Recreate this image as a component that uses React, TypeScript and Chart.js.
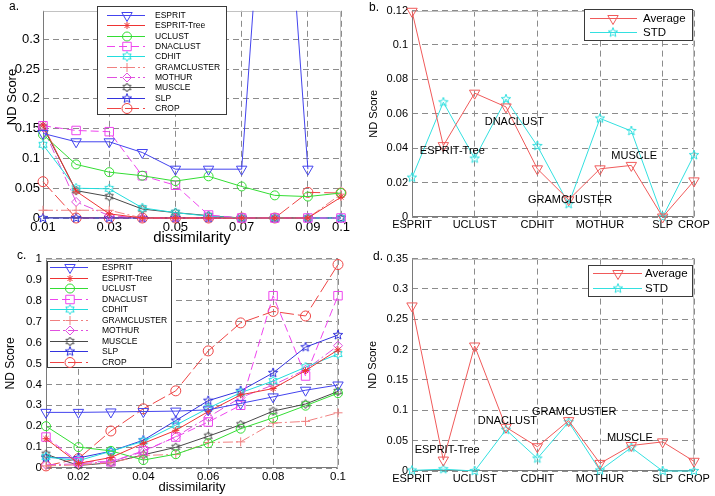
import React, { useEffect, useRef } from "react";
import { Chart, registerables } from "chart.js";
import { drawPoint } from "chart.js/helpers";

Chart.register(...registerables);

const FONT = 'Arial, "Liberation Sans", Helvetica, sans-serif';

// ---------- data ----------
const methods = ["ESPRIT", "ESPRIT-Tree", "UCLUST", "DNACLUST", "CDHIT", "GRAMCLUSTER", "MOTHUR", "MUSCLE", "SLP", "CROP"];
const dissim = [0.01, 0.02, 0.03, 0.04, 0.05, 0.06, 0.07, 0.08, 0.09, 0.1];

// panel a
const aESPRIT = [0.142, 0.128, 0.128, 0.110, 0.082, 0.082, 0.082, 0.86, 0.082, null];
const aESPRITTree = [0.156, 0.045, 0.007, 0, 0, 0, 0, 0, 0, 0.035];
const aUCLUST = [0.140, 0.090, 0.077, 0.071, 0.062, 0.070, 0.053, 0.038, 0.036, 0.042];
const aDNACLUST = [0.155, 0.147, 0.145, 0.071, 0.055, 0.005, 0, 0, 0, 0];
const aCDHIT = [0.123, 0.050, 0.049, 0.017, 0.009, 0.003, 0, 0, 0, 0];
const aGRAMCLUSTER = [0.013, 0.013, 0.013, 0, 0, 0, 0, 0, 0, 0.040];
const aMOTHUR = [0.152, 0.027, 0.004, 0, 0, 0, 0, 0, 0, 0];
const aMUSCLE = [0.153, 0.046, 0.036, 0.015, 0.009, 0.004, 0, 0, 0, 0];
const aSLP = [0, 0, 0, 0, 0, 0, 0, 0, 0, 0];
const aCROP = [0.061, 0, 0, 0, 0, 0, 0, 0, 0.043, 0.042];

// panel c
const cESPRIT = [0.266, 0.266, 0.268, 0.270, 0.272, 0.278, 0.309, 0.340, 0.372, 0.397];
const cESPRITTree = [0.14, 0.022, 0.05, 0.118, 0.18, 0.27, 0.35, 0.38, 0.466, 0.565];
const cUCLUST = [0.2, 0.1, 0.082, 0.038, 0.066, 0.118, 0.188, 0.24, 0.298, 0.358];
const cDNACLUST = [0.148, 0.03, 0.03, 0.082, 0.148, 0.22, 0.30, 0.824, 0.44, 0.824];
const cCDHIT = [0.053, 0.035, 0.08, 0.128, 0.205, 0.286, 0.36, 0.416, 0.482, 0.545];
const cGRAMCLUSTER = [0.01, 0.015, 0.025, 0.06, 0.065, 0.122, 0.125, 0.215, 0.223, 0.264];
const cMOTHUR = [0.015, 0.02, 0.03, 0.078, 0.15, 0.243, 0.337, 0.397, 0.47, 0.585];
const cMUSCLE = [0.066, 0.012, 0.025, 0.063, 0.099, 0.152, 0.207, 0.272, 0.306, 0.366];
const cSLP = [0.05, 0.048, 0.08, 0.133, 0.227, 0.322, 0.369, 0.455, 0.578, 0.636];
const cCROP = [0.01, 0.045, 0.177, 0.283, 0.369, 0.56, 0.694, 0.749, 0.727, 0.973];

// panel b
const bAverage = [0.1196, 0.0415, 0.072, 0.064, 0.028, 0.010, 0.028, 0.030, 0.0, 0.021];
const bSTD = [0.0229, 0.0667, 0.034, 0.0685, 0.0413, 0.0075, 0.0573, 0.050, 0.0, 0.036];
// panel d
const dAverage = [0.272, 0.018, 0.206, 0.072, 0.040, 0.083, 0.0125, 0.042, 0.048, 0.016];
const dSTD = [0.001, 0.003, 0.0, 0.068, 0.0207, 0.0806, 0.001, 0.0387, 0.0, 0.0];

// ticks
const aXTicks = [0.01, 0.03, 0.05, 0.07, 0.09, 0.1];
const aYTicks = [0, 0.05, 0.1, 0.15, 0.2, 0.25, 0.3];
const cXTicks = [0.02, 0.04, 0.06, 0.08, 0.1];
const cYTicks = [0, 0.1, 0.2, 0.3, 0.4, 0.5, 0.6, 0.7, 0.8, 0.9, 1];
const bdXTicks = [1, 3, 5, 7, 9, 10];
const bYTicks = [0, 0.02, 0.04, 0.06, 0.08, 0.1, 0.12];
const dYTicks = [0, 0.05, 0.1, 0.15, 0.2, 0.25, 0.3, 0.35];

// labelled methods written next to points in b and d
const bNotes = [
  { text: "ESPRIT-Tree", x: 1.25, y: 0.0383 },
  { text: "DNACLUST", x: 3.32, y: 0.055 },
  { text: "GRAMCLUSTER", x: 4.7, y: 0.010 },
  { text: "MUSCLE", x: 7.36, y: 0.0356 },
];
const dNotes = [
  { text: "ESPRIT-Tree", x: 1.085, y: 0.034 },
  { text: "DNACLUST", x: 3.1, y: 0.082 },
  { text: "GRAMCLUSTER", x: 4.83, y: 0.098 },
  { text: "MUSCLE", x: 7.22, y: 0.055 },
];

// ---------- helpers ----------
const fmt = (v: any) => String(+Number(v).toFixed(3));
const GRID = "#8c8c8c";

function starCanvas(n: number, ro: number, ri: number, color: string) {
  const s = Math.ceil(2 * ro + 4);
  const c = document.createElement("canvas");
  c.width = s;
  c.height = s;
  const ctx = c.getContext("2d")!;
  ctx.strokeStyle = color;
  ctx.lineWidth = 1;
  ctx.beginPath();
  for (let i = 0; i < 2 * n; i++) {
    const r = i % 2 === 0 ? ro : ri;
    const a = -Math.PI / 2 + (i * Math.PI) / n;
    const x = s / 2 + r * Math.cos(a);
    const y = s / 2 + r * Math.sin(a);
    if (i === 0) ctx.moveTo(x, y);
    else ctx.lineTo(x, y);
  }
  ctx.closePath();
  ctx.stroke();
  return c;
}

type Sty = { color: string; style: any; radius: number; rotation?: number; dash: number[] };

function methodStyles(): Sty[] {
  return [
    { color: "#4444ee", style: "triangle", radius: 6, rotation: 180, dash: [] },
    { color: "#ee3333", style: "star", radius: 3.5, dash: [] },
    { color: "#33dd33", style: "circle", radius: 4.5, dash: [] },
    { color: "#ee44ee", style: "rect", radius: 6, dash: [8, 4] },
    { color: "#22dddd", style: starCanvas(6, 4.8, 2.8, "#22dddd"), radius: 5, dash: [] },
    { color: "#f08080", style: "cross", radius: 4.5, dash: [10, 3, 2, 3] },
    { color: "#e050e0", style: "rectRot", radius: 4.5, dash: [10, 3, 2, 3] },
    { color: "#484848", style: starCanvas(6, 4.5, 2.6, "#484848"), radius: 5, dash: [] },
    { color: "#3333dd", style: starCanvas(5, 5, 2.1, "#3333dd"), radius: 5, dash: [] },
    { color: "#ee4444", style: "circle", radius: 5, dash: [14, 4] },
  ];
}

function mkDs(label: string, xs: number[], ys: (number | null)[], st: Sty, extra: any = {}) {
  return {
    label,
    data: xs.map((x, i) => ({ x, y: ys[i] })),
    borderColor: st.color,
    backgroundColor: st.color,
    borderWidth: 1,
    borderDash: st.dash,
    pointStyle: st.style,
    pointRadius: st.radius,
    pointHoverRadius: st.radius,
    pointRotation: st.rotation || 0,
    pointBorderColor: st.color,
    pointBackgroundColor: "rgba(0,0,0,0)",
    pointBorderWidth: 1,
    tension: 0,
    fill: false,
    clip: 12,
    spanGaps: false,
    ...extra,
  };
}

type LegendCfg = { box: number[]; y0: number; dy: number; lx0: number; lx1: number; mx: number; tx: number; size: number };
type TextCfg = { text: string; x: number; y: number; size: number; data?: boolean; rot?: number; align?: CanvasTextAlign };

function panelPlugin(name: string, legend: LegendCfg, texts: TextCfg[]) {
  return {
    id: "panel" + name,
    beforeDatasetsDraw(chart: any) {
      const { ctx, chartArea: a } = chart;
      const l = Math.round(a.left), r = Math.round(a.right), t = Math.round(a.top), b = Math.round(a.bottom);
      ctx.save();
      ctx.setLineDash([]);
      ctx.lineWidth = 1;
      ctx.strokeStyle = "#c2c2c2";
      ctx.beginPath();
      ctx.moveTo(l + 0.5, t + 0.5);
      ctx.lineTo(r - 0.5, t + 0.5);
      ctx.lineTo(r - 0.5, b - 0.5);
      ctx.stroke();
      ctx.strokeStyle = "#7a7a7a";
      ctx.beginPath();
      ctx.moveTo(l + 0.5, t + 0.5);
      ctx.lineTo(l + 0.5, b - 0.5);
      ctx.lineTo(r - 0.5, b - 0.5);
      ctx.stroke();
      ctx.restore();
    },
    afterDraw(chart: any) {
      const ctx = chart.ctx as CanvasRenderingContext2D;
      ctx.save();
      // legend
      const [x0, y0, x1, y1] = legend.box;
      ctx.fillStyle = "#ffffff";
      ctx.fillRect(x0, y0, x1 - x0, y1 - y0);
      ctx.strokeStyle = "#3a3a3a";
      ctx.lineWidth = 1;
      ctx.setLineDash([]);
      ctx.strokeRect(x0 + 0.5, y0 + 0.5, x1 - x0 - 1, y1 - y0 - 1);
      chart.data.datasets.forEach((ds: any, i: number) => {
        const y = Math.round(legend.y0 + i * legend.dy) + 0.5;
        ctx.save();
        ctx.strokeStyle = ds.borderColor;
        ctx.lineWidth = 1;
        ctx.setLineDash(ds.borderDash || []);
        ctx.beginPath();
        ctx.moveTo(legend.lx0, y);
        ctx.lineTo(legend.lx1, y);
        ctx.stroke();
        ctx.setLineDash([]);
        ctx.fillStyle = "rgba(0,0,0,0)";
        ctx.strokeStyle = ds.borderColor;
        drawPoint(ctx, { pointStyle: ds.pointStyle, rotation: ds.pointRotation || 0, radius: ds.pointRadius, borderWidth: 1 } as any, legend.mx, y);
        ctx.restore();
        ctx.fillStyle = "#000";
        ctx.font = `${legend.size}px ${FONT}`;
        ctx.textAlign = "left";
        ctx.textBaseline = "middle";
        ctx.fillText(ds.label, legend.tx, y);
      });
      // texts
      texts.forEach((t) => {
        let x = t.x, y = t.y;
        if (t.data) {
          x = chart.scales.x.getPixelForValue(t.x);
          y = chart.scales.y.getPixelForValue(t.y);
        }
        ctx.save();
        ctx.translate(x, y);
        if (t.rot) ctx.rotate(t.rot);
        ctx.fillStyle = "#000";
        ctx.font = `${t.size}px ${FONT}`;
        ctx.textAlign = t.align || "left";
        ctx.textBaseline = "middle";
        ctx.fillText(t.text, 0, 0);
        ctx.restore();
      });
      ctx.restore();
    },
  };
}

function axis(opts: {
  min: number; max: number; ticks: number[]; size: number; pad: number; fit: number; horizontal: boolean;
  title?: string; titleSize?: number; titlePad?: number; labels?: (v: number) => string;
}) {
  return {
    type: "linear",
    min: opts.min,
    max: opts.max,
    afterBuildTicks: (s: any) => {
      s.ticks = opts.ticks.map((v) => ({ value: v }));
    },
    afterFit: (s: any) => {
      if (opts.horizontal) s.height = opts.fit;
      else s.width = opts.fit;
    },
    ticks: {
      autoSkip: false,
      maxRotation: 0,
      minRotation: 0,
      padding: opts.pad,
      color: "#000",
      font: { family: FONT, size: opts.size },
      callback: (v: any) => (opts.labels ? opts.labels(Number(v)) : fmt(v)),
    },
    grid: { color: GRID, lineWidth: 1, drawTicks: false },
    border: { display: false, dash: [6, 4] },
    title: opts.title
      ? {
          display: true,
          text: opts.title,
          color: "#000",
          font: { family: FONT, size: opts.titleSize },
          padding: opts.horizontal ? { top: 0, bottom: opts.titlePad } : { top: opts.titlePad, bottom: 0 },
        }
      : { display: false },
  };
}

function baseOptions(padRight: number, padTop: number, scales: any) {
  return {
    responsive: false,
    animation: false,
    devicePixelRatio: 1,
    events: [],
    layout: { padding: { left: 0, right: padRight, top: padTop, bottom: 0 } },
    plugins: { legend: { display: false }, tooltip: { enabled: false } },
    scales,
  };
}

function configA() {
  const st = methodStyles();
  const series = [aESPRIT, aESPRITTree, aUCLUST, aDNACLUST, aCDHIT, aGRAMCLUSTER, aMOTHUR, aMUSCLE, aSLP, aCROP];
  const datasets = series.map((s, i) =>
    mkDs(methods[i], dissim, s, st[i], i === 0 ? { clip: { left: 12, top: 0, right: 12, bottom: 12 } } : {})
  );
  return {
    type: "line",
    data: { datasets },
    options: baseOptions(16, 8, {
      x: axis({ min: 0.01, max: 0.1, ticks: aXTicks, size: 13, pad: 2, fit: 30, horizontal: true, title: "dissimilarity", titleSize: 15, titlePad: 1 }),
      y: axis({ min: 0, max: 0.348, ticks: aYTicks, size: 13, pad: 3, fit: 43, horizontal: false }),
    }),
    plugins: [
      panelPlugin(
        "A",
        { box: [97, 6, 227, 115], y0: 15, dy: 10.33, lx0: 107, lx1: 145, mx: 127, tx: 155, size: 8.5 },
        [
          { text: "a.", x: 9, y: 7, size: 12 },
          { text: "ND Score", x: 12, y: 97, size: 13, rot: -Math.PI / 2, align: "center" },
        ]
      ),
    ],
  };
}

function configC() {
  const st = methodStyles();
  const series = [cESPRIT, cESPRITTree, cUCLUST, cDNACLUST, cCDHIT, cGRAMCLUSTER, cMOTHUR, cMUSCLE, cSLP, cCROP];
  const datasets = series.map((s, i) => mkDs(methods[i], dissim, s, st[i]));
  return {
    type: "line",
    data: { datasets },
    options: baseOptions(19, 8, {
      x: axis({ min: 0.01, max: 0.1, ticks: cXTicks, size: 11.5, pad: 2, fit: 28, horizontal: true, title: "dissimilarity", titleSize: 13, titlePad: 1 }),
      y: axis({ min: 0, max: 1, ticks: cYTicks, size: 11.5, pad: 4, fit: 46, horizontal: false, title: "ND Score", titleSize: 12, titlePad: 3 }),
    }),
    plugins: [
      panelPlugin(
        "C",
        { box: [47, 13, 172, 120], y0: 19, dy: 10.55, lx0: 50, lx1: 88, mx: 70, tx: 102, size: 8.5 },
        [{ text: "c.", x: 17, y: 8, size: 12 }]
      ),
    ],
  };
}

function configBD(name: string, avg: number[], std: number[], yMax: number, yTicks: number[], notes: any[], legend: LegendCfg, letter: TextCfg, top: number, bottomFit: number, titlePad: number, tickPad: number) {
  const idx = methods.map((_, i) => i + 1);
  const avgSty: Sty = { color: "#f05a5a", style: "triangle", radius: 6, rotation: 180, dash: [] };
  const stdSty: Sty = { color: "#33e0e0", style: starCanvas(5, 5, 2.1, "#33e0e0"), radius: 5, dash: [] };
  return {
    type: "line",
    data: { datasets: [mkDs("Average", idx, avg, avgSty), mkDs("STD", idx, std, stdSty)] },
    options: baseOptions(21, top, {
      x: axis({ min: 1, max: 10, ticks: bdXTicks, size: 11, pad: tickPad, fit: bottomFit, horizontal: true, labels: (v) => methods[Math.round(v) - 1] }),
      y: axis({ min: 0, max: yMax, ticks: yTicks, size: 11, pad: 4, fit: 55, horizontal: false, title: "ND Score", titleSize: 11, titlePad }),
    }),
    plugins: [
      panelPlugin(
        name,
        legend,
        [letter, ...notes.map((n) => ({ text: n.text, x: n.x, y: n.y, size: 11, data: true }))]
      ),
    ],
  };
}

export default function App() {
  const refA = useRef<HTMLCanvasElement>(null);
  const refB = useRef<HTMLCanvasElement>(null);
  const refC = useRef<HTMLCanvasElement>(null);
  const refD = useRef<HTMLCanvasElement>(null);

  useEffect(() => {
    const charts: Chart[] = [];
    charts.push(new Chart(refA.current!, configA() as any));
    charts.push(
      new Chart(
        refB.current!,
        configBD(
          "B", bAverage, bSTD, 0.12, bYTicks, bNotes,
          { box: [227, 9, 336, 41], y0: 18, dy: 14, lx0: 233, lx1: 280, mx: 256, tx: 286, size: 11.5 },
          { text: "b.", x: 12, y: 8, size: 12 },
          9, 31, 10, 1
        ) as any
      )
    );
    charts.push(new Chart(refC.current!, configC() as any));
    charts.push(
      new Chart(
        refD.current!,
        configBD(
          "D", dAverage, dSTD, 0.35, dYTicks, dNotes,
          { box: [231, 17, 336, 49], y0: 25, dy: 15, lx0: 236, lx1: 285, mx: 261, tx: 288, size: 11.5 },
          { text: "d.", x: 16, y: 9, size: 12 },
          9, 25, 9, 1
        ) as any
      )
    );
    return () => charts.forEach((c) => c.destroy());
  }, []);

  const cs = (l: number, t: number, w: number): React.CSSProperties => ({
    position: "absolute", left: l, top: t, width: w, height: 248, display: "block",
  });

  return (
    <div style={{ position: "fixed", left: 0, top: 0, width: 715, height: 496, background: "#fff", overflow: "hidden" }}>
      <canvas ref={refA} width={357} height={248} style={cs(0, 0, 357)} />
      <canvas ref={refB} width={358} height={248} style={cs(357, 0, 358)} />
      <canvas ref={refC} width={357} height={248} style={cs(0, 248, 357)} />
      <canvas ref={refD} width={358} height={248} style={cs(357, 248, 358)} />
    </div>
  );
}
